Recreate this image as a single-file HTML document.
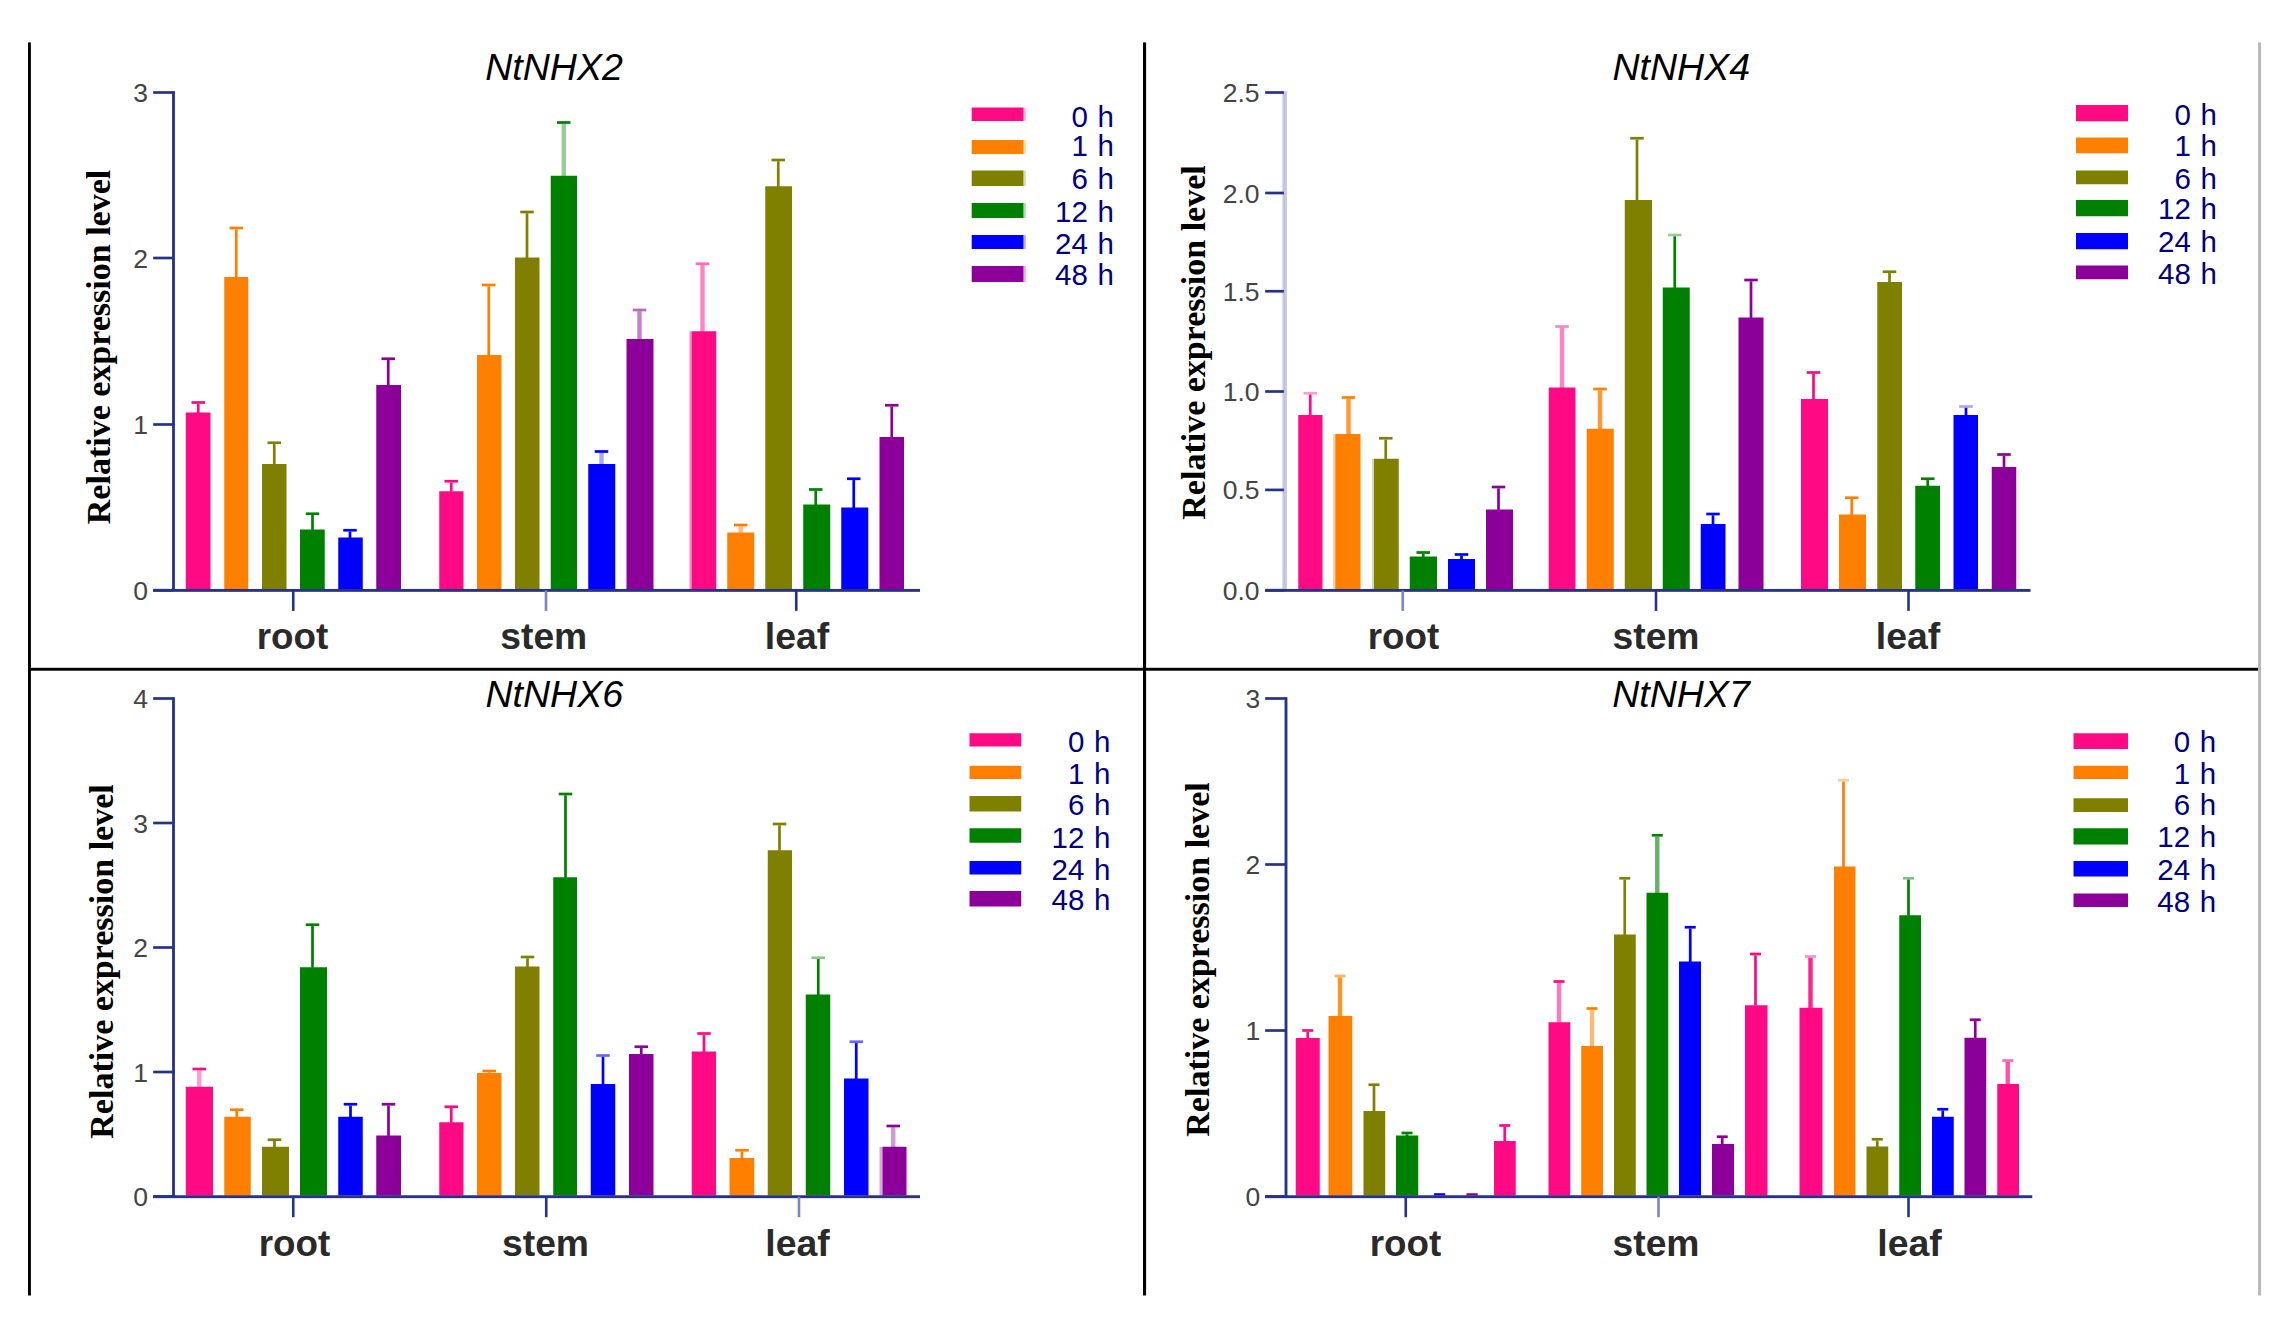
<!DOCTYPE html>
<html><head><meta charset="utf-8"><title>NtNHX relative expression</title>
<style>
html,body{margin:0;padding:0;background:#fff;}
svg{display:block;}
text{font-family:"Liberation Sans",sans-serif;}
.tk{font-size:26.5px;fill:#444;}
.cat{font-size:36px;font-weight:bold;fill:#2a2a2a;}
.ttl{font-size:37.5px;font-style:italic;fill:#000;}
.lg{font-size:29.5px;fill:#000080;word-spacing:1.5px;}
.yl{font-family:"Liberation Serif",serif;font-weight:bold;font-size:34px;fill:#000;}
</style></head><body>
<svg width="2290" height="1330" viewBox="0 0 2290 1330">
<rect x="0" y="0" width="2290" height="1330" fill="#ffffff"/>
<rect x="879.5" y="1146.75" width="3.1" height="48.55" fill="#8c0099" fill-opacity="0.35"/>
<rect x="689.5" y="331.25" width="2.4" height="257.75" fill="#ff0a84" fill-opacity="0.5"/>
<rect x="1333" y="434" width="2.3" height="155" fill="#ff8000" fill-opacity="0.35"/>
<rect x="1372" y="458.75" width="2.1" height="130.25" fill="#808000" fill-opacity="0.3"/>
<rect x="1023.2" y="107.8" width="2.6" height="13.1" fill="#ff0a84" fill-opacity="0.3"/>
<rect x="1023.2" y="140" width="2.6" height="14" fill="#ff8000" fill-opacity="0.3"/>
<rect x="1023.2" y="170.5" width="2.6" height="15.5" fill="#808000" fill-opacity="0.3"/>
<rect x="1023.2" y="203" width="2.6" height="15" fill="#008000" fill-opacity="0.3"/>
<rect x="1023.2" y="235" width="2.6" height="14" fill="#0000ff" fill-opacity="0.3"/>
<rect x="1023.2" y="266" width="2.6" height="16" fill="#8c0099" fill-opacity="0.3"/>
<rect x="28" y="42.4" width="2.9" height="1253.1" fill="#000"/>
<rect x="1143" y="42.4" width="3.1" height="1253.1" fill="#000"/>
<rect x="28" y="667.8" width="2230" height="2.9" fill="#000"/>
<rect x="2258.05" y="42.4" width="3" height="1253.1" fill="#b8b8b8"/>
<rect x="196.9" y="403.8" width="2.7" height="9.2" fill="#ff0a84"/>
<rect x="191.5" y="401.15" width="13.5" height="2.7" fill="#ff0a84"/>
<rect x="185.75" y="412.5" width="24.75" height="176.75" fill="#ff0a84"/>
<rect x="234.9" y="229.3" width="2.7" height="48.2" fill="#ff8000"/>
<rect x="229.5" y="226.65" width="13.5" height="2.7" fill="#ff8000"/>
<rect x="224.25" y="277" width="24" height="312.25" fill="#ff8000"/>
<rect x="272.9" y="444.05" width="2.7" height="20.45" fill="#808000"/>
<rect x="267.5" y="441.4" width="13.5" height="2.7" fill="#808000"/>
<rect x="262" y="464" width="24.5" height="125.25" fill="#808000"/>
<rect x="311.15" y="515.05" width="2.7" height="14.95" fill="#008000"/>
<rect x="305.75" y="512.4" width="13.5" height="2.7" fill="#008000"/>
<rect x="300" y="529.5" width="24.75" height="59.75" fill="#008000"/>
<rect x="348.65" y="531.55" width="2.7" height="6.45" fill="#0000ff"/>
<rect x="343.25" y="528.9" width="13.5" height="2.7" fill="#0000ff"/>
<rect x="338.25" y="537.5" width="24.5" height="51.75" fill="#0000ff"/>
<rect x="386.9" y="360.05" width="2.7" height="25.45" fill="#8c0099"/>
<rect x="381.5" y="357.4" width="13.5" height="2.7" fill="#8c0099"/>
<rect x="376.25" y="385" width="24.75" height="204.25" fill="#8c0099"/>
<rect x="449.9" y="482.55" width="2.7" height="9.2" fill="#ff0a84"/>
<rect x="444.5" y="479.9" width="13.5" height="2.7" fill="#ff0a84"/>
<rect x="439.25" y="491.25" width="24.25" height="98" fill="#ff0a84"/>
<rect x="487.4" y="286.3" width="2.7" height="69.2" fill="#ff8000"/>
<rect x="482" y="283.65" width="13.5" height="2.7" fill="#ff8000"/>
<rect x="477" y="355" width="24.5" height="234.25" fill="#ff8000"/>
<rect x="525.65" y="213.3" width="2.7" height="44.7" fill="#808000"/>
<rect x="520.25" y="210.65" width="13.5" height="2.7" fill="#808000"/>
<rect x="515" y="257.5" width="24.5" height="331.75" fill="#808000"/>
<rect x="561.55" y="123.8" width="4.4" height="52.45" fill="#008000" fill-opacity="0.4"/>
<rect x="557" y="121.15" width="13.5" height="2.7" fill="#008000"/>
<rect x="550.75" y="175.75" width="26.25" height="413.5" fill="#008000"/>
<rect x="599.3" y="452.8" width="4.4" height="11.7" fill="#0000ff" fill-opacity="0.35"/>
<rect x="594.75" y="450.15" width="13.5" height="2.7" fill="#0000ff"/>
<rect x="588.25" y="464" width="27" height="125.25" fill="#0000ff"/>
<rect x="637.3" y="311.3" width="4.4" height="28.2" fill="#8c0099" fill-opacity="0.5"/>
<rect x="632.75" y="308.65" width="13.5" height="2.7" fill="#8c0099" fill-opacity="0.6"/>
<rect x="626.5" y="339" width="27" height="250.25" fill="#8c0099"/>
<rect x="700.3" y="265.05" width="4.4" height="66.7" fill="#ff0a84" fill-opacity="0.5"/>
<rect x="695.75" y="262.4" width="13.5" height="2.7" fill="#ff0a84" fill-opacity="0.6"/>
<rect x="691.8" y="331.25" width="24.45" height="258" fill="#ff0a84"/>
<rect x="738.55" y="526.3" width="4.4" height="6.7" fill="#ff8000" fill-opacity="0.5"/>
<rect x="734" y="523.65" width="13.5" height="2.7" fill="#ff8000"/>
<rect x="727.25" y="532.5" width="27" height="56.75" fill="#ff8000"/>
<rect x="776.9" y="161.3" width="2.7" height="25.45" fill="#808000"/>
<rect x="771.5" y="158.65" width="13.5" height="2.7" fill="#808000"/>
<rect x="765.25" y="186.25" width="26.75" height="403" fill="#808000"/>
<rect x="814.4" y="490.8" width="2.7" height="14.2" fill="#008000"/>
<rect x="809" y="488.15" width="13.5" height="2.7" fill="#008000"/>
<rect x="803.25" y="504.5" width="27" height="84.75" fill="#008000"/>
<rect x="852.4" y="480.05" width="2.7" height="27.95" fill="#0000ff"/>
<rect x="847" y="477.4" width="13.5" height="2.7" fill="#0000ff"/>
<rect x="841.25" y="507.5" width="27" height="81.75" fill="#0000ff"/>
<rect x="890.4" y="406.55" width="2.7" height="30.95" fill="#8c0099"/>
<rect x="885" y="403.9" width="13.5" height="2.7" fill="#8c0099"/>
<rect x="879.5" y="437" width="24.5" height="152.25" fill="#8c0099"/>
<rect x="172.08" y="91.15" width="2.84" height="499.25" fill="#27338a"/>
<rect x="153.15" y="588.9" width="20.35" height="2.7" fill="#27338a"/>
<text x="148" y="599.75" text-anchor="end" class="tk">0</text>
<rect x="153.15" y="423.15" width="20.35" height="2.7" fill="#27338a"/>
<text x="148" y="434" text-anchor="end" class="tk">1</text>
<rect x="153.15" y="256.65" width="20.35" height="2.7" fill="#27338a"/>
<text x="148" y="267.5" text-anchor="end" class="tk">2</text>
<rect x="153.15" y="91.15" width="20.35" height="2.7" fill="#27338a"/>
<text x="148" y="102" text-anchor="end" class="tk">3</text>
<rect x="153.15" y="588.95" width="766.85" height="2.9" fill="#27338a"/>
<rect x="291.95" y="590.4" width="2.6" height="20.5" fill="#27338a"/>
<rect x="544.7" y="590.4" width="2.6" height="20.5" fill="#7f86bf"/>
<rect x="794.95" y="590.4" width="2.6" height="20.5" fill="#27338a"/>
<text x="292.5" y="649" text-anchor="middle" textLength="71.5" lengthAdjust="spacingAndGlyphs" class="cat">root</text>
<text x="543.75" y="649" text-anchor="middle" textLength="87" lengthAdjust="spacingAndGlyphs" class="cat">stem</text>
<text x="797" y="649" text-anchor="middle" textLength="64.5" lengthAdjust="spacingAndGlyphs" class="cat">leaf</text>
<rect x="1308.9" y="394.55" width="2.7" height="20.95" fill="#ff0a84"/>
<rect x="1303.5" y="391.9" width="13.5" height="2.7" fill="#ff0a84" fill-opacity="0.4"/>
<rect x="1298.25" y="415" width="24.25" height="174.25" fill="#ff0a84"/>
<rect x="1346.3" y="398.8" width="4.4" height="35.7" fill="#ff8000" fill-opacity="0.8"/>
<rect x="1341.75" y="396.15" width="13.5" height="2.7" fill="#ff8000"/>
<rect x="1335.25" y="434" width="25.25" height="155.25" fill="#ff8000"/>
<rect x="1384.4" y="439.55" width="2.7" height="19.7" fill="#808000"/>
<rect x="1379" y="436.9" width="13.5" height="2.7" fill="#808000"/>
<rect x="1374" y="458.75" width="24.75" height="130.5" fill="#808000"/>
<rect x="1421.9" y="553.8" width="2.7" height="3.2" fill="#008000"/>
<rect x="1416.5" y="551.15" width="13.5" height="2.7" fill="#008000"/>
<rect x="1409.75" y="556.5" width="27.25" height="32.75" fill="#008000"/>
<rect x="1460.15" y="555.8" width="2.7" height="3.7" fill="#0000ff"/>
<rect x="1454.75" y="553.15" width="13.5" height="2.7" fill="#0000ff"/>
<rect x="1448" y="559" width="27" height="30.25" fill="#0000ff"/>
<rect x="1497.15" y="488.3" width="2.7" height="21.7" fill="#8c0099"/>
<rect x="1491.75" y="485.65" width="13.5" height="2.7" fill="#8c0099"/>
<rect x="1486" y="509.5" width="27" height="79.75" fill="#8c0099"/>
<rect x="1559.8" y="327.8" width="4.4" height="60.2" fill="#ff0a84" fill-opacity="0.5"/>
<rect x="1555.25" y="325.15" width="13.5" height="2.7" fill="#ff0a84" fill-opacity="0.5"/>
<rect x="1548.75" y="387.5" width="26.75" height="201.75" fill="#ff0a84"/>
<rect x="1597.8" y="390.3" width="4.4" height="38.95" fill="#ff8000" fill-opacity="0.8"/>
<rect x="1593.25" y="387.65" width="13.5" height="2.7" fill="#ff8000"/>
<rect x="1586.75" y="428.75" width="27" height="160.5" fill="#ff8000"/>
<rect x="1635.65" y="139.55" width="2.7" height="60.95" fill="#808000"/>
<rect x="1630.25" y="136.9" width="13.5" height="2.7" fill="#808000"/>
<rect x="1624.75" y="200" width="27.25" height="389.25" fill="#808000"/>
<rect x="1673.4" y="236.3" width="2.7" height="51.7" fill="#008000"/>
<rect x="1668" y="233.65" width="13.5" height="2.7" fill="#008000" fill-opacity="0.4"/>
<rect x="1662.75" y="287.5" width="27" height="301.75" fill="#008000"/>
<rect x="1711.65" y="515.3" width="2.7" height="9.2" fill="#0000ff"/>
<rect x="1706.25" y="512.65" width="13.5" height="2.7" fill="#0000ff"/>
<rect x="1700.75" y="524" width="24.75" height="65.25" fill="#0000ff"/>
<rect x="1749.65" y="281.3" width="2.7" height="36.7" fill="#8c0099"/>
<rect x="1744.25" y="278.65" width="13.5" height="2.7" fill="#8c0099"/>
<rect x="1738.5" y="317.5" width="25" height="271.75" fill="#8c0099"/>
<rect x="1812.15" y="373.8" width="2.7" height="25.7" fill="#ff0a84"/>
<rect x="1806.75" y="371.15" width="13.5" height="2.7" fill="#ff0a84"/>
<rect x="1801" y="399" width="27" height="190.25" fill="#ff0a84"/>
<rect x="1850.4" y="499.05" width="2.7" height="15.95" fill="#ff8000"/>
<rect x="1845" y="496.4" width="13.5" height="2.7" fill="#ff8000"/>
<rect x="1839" y="514.5" width="27" height="74.75" fill="#ff8000"/>
<rect x="1888.15" y="273.05" width="2.7" height="9.45" fill="#808000"/>
<rect x="1882.75" y="270.4" width="13.5" height="2.7" fill="#808000"/>
<rect x="1877.25" y="282" width="24.75" height="307.25" fill="#808000"/>
<rect x="1926.4" y="480.05" width="2.7" height="6.2" fill="#008000"/>
<rect x="1921" y="477.4" width="13.5" height="2.7" fill="#008000"/>
<rect x="1915.25" y="485.75" width="24.75" height="103.5" fill="#008000"/>
<rect x="1964.65" y="407.8" width="2.7" height="7.7" fill="#0000ff"/>
<rect x="1959.25" y="405.15" width="13.5" height="2.7" fill="#0000ff" fill-opacity="0.35"/>
<rect x="1953.5" y="415" width="24.5" height="174.25" fill="#0000ff"/>
<rect x="2002.65" y="455.8" width="2.7" height="11.7" fill="#8c0099"/>
<rect x="1997.25" y="453.15" width="13.5" height="2.7" fill="#8c0099"/>
<rect x="1991.75" y="467" width="24.5" height="122.25" fill="#8c0099"/>
<rect x="1282.4" y="91.2" width="4.5" height="499.2" fill="#c5c7e2"/>
<rect x="1265.15" y="588.9" width="18.75" height="2.7" fill="#27338a"/>
<text x="1259.5" y="599.75" text-anchor="end" class="tk">0.0</text>
<rect x="1265.15" y="488.55" width="18.75" height="2.7" fill="#27338a"/>
<text x="1259.5" y="499.4" text-anchor="end" class="tk">0.5</text>
<rect x="1265.15" y="390.15" width="18.75" height="2.7" fill="#27338a"/>
<text x="1259.5" y="401" text-anchor="end" class="tk">1.0</text>
<rect x="1265.15" y="289.9" width="18.75" height="2.7" fill="#27338a"/>
<text x="1259.5" y="300.75" text-anchor="end" class="tk">1.5</text>
<rect x="1265.15" y="191.65" width="18.75" height="2.7" fill="#27338a"/>
<text x="1259.5" y="202.5" text-anchor="end" class="tk">2.0</text>
<rect x="1265.15" y="91.15" width="18.75" height="2.7" fill="#27338a"/>
<text x="1259.5" y="102" text-anchor="end" class="tk">2.5</text>
<rect x="1265.15" y="588.95" width="765.35" height="2.9" fill="#27338a"/>
<rect x="1401.45" y="590.4" width="2.6" height="20.5" fill="#7f86bf"/>
<rect x="1654.7" y="590.4" width="2.6" height="20.5" fill="#27338a"/>
<rect x="1907.2" y="590.4" width="2.6" height="20.5" fill="#27338a"/>
<text x="1403.5" y="649" text-anchor="middle" textLength="71.5" lengthAdjust="spacingAndGlyphs" class="cat">root</text>
<text x="1656" y="649" text-anchor="middle" textLength="87" lengthAdjust="spacingAndGlyphs" class="cat">stem</text>
<text x="1908" y="649" text-anchor="middle" textLength="64.5" lengthAdjust="spacingAndGlyphs" class="cat">leaf</text>
<rect x="197.05" y="1070.3" width="4.4" height="16.95" fill="#ff0a84" fill-opacity="0.4"/>
<rect x="192.5" y="1067.65" width="13.5" height="2.7" fill="#ff0a84"/>
<rect x="185.75" y="1086.75" width="27.25" height="108.75" fill="#ff0a84"/>
<rect x="235.4" y="1111.05" width="2.7" height="6.2" fill="#ff8000"/>
<rect x="230" y="1108.4" width="13.5" height="2.7" fill="#ff8000"/>
<rect x="224.25" y="1116.75" width="26.5" height="78.75" fill="#ff8000"/>
<rect x="273.15" y="1141.05" width="2.7" height="6.2" fill="#808000"/>
<rect x="267.75" y="1138.4" width="13.5" height="2.7" fill="#808000"/>
<rect x="262" y="1146.75" width="27" height="48.75" fill="#808000"/>
<rect x="311.15" y="926.05" width="2.7" height="41.7" fill="#008000"/>
<rect x="305.75" y="923.4" width="13.5" height="2.7" fill="#008000"/>
<rect x="300" y="967.25" width="27" height="228.25" fill="#008000"/>
<rect x="349.15" y="1105.55" width="2.7" height="11.7" fill="#0000ff"/>
<rect x="343.75" y="1102.9" width="13.5" height="2.7" fill="#0000ff"/>
<rect x="338.25" y="1116.75" width="24.5" height="78.75" fill="#0000ff"/>
<rect x="387.15" y="1105.55" width="2.7" height="30.45" fill="#8c0099"/>
<rect x="381.75" y="1102.9" width="13.5" height="2.7" fill="#8c0099"/>
<rect x="376.25" y="1135.5" width="24.75" height="60" fill="#8c0099"/>
<rect x="449.9" y="1108.05" width="2.7" height="14.7" fill="#ff0a84"/>
<rect x="444.5" y="1105.4" width="13.5" height="2.7" fill="#ff0a84"/>
<rect x="439.25" y="1122.25" width="24.25" height="73.25" fill="#ff0a84"/>
<rect x="487.9" y="1072.3" width="2.7" height="1.2" fill="#ff8000"/>
<rect x="482.5" y="1069.65" width="13.5" height="2.7" fill="#ff8000"/>
<rect x="477" y="1073" width="24.5" height="122.5" fill="#ff8000"/>
<rect x="526.15" y="958.3" width="2.7" height="8.7" fill="#808000"/>
<rect x="520.75" y="955.65" width="13.5" height="2.7" fill="#808000"/>
<rect x="515" y="966.5" width="24.5" height="229" fill="#808000"/>
<rect x="564.15" y="795.3" width="2.7" height="82.45" fill="#008000"/>
<rect x="558.75" y="792.65" width="13.5" height="2.7" fill="#008000"/>
<rect x="553.25" y="877.25" width="23.75" height="318.25" fill="#008000"/>
<rect x="601.65" y="1056.8" width="2.7" height="27.7" fill="#0000ff"/>
<rect x="596.25" y="1054.15" width="13.5" height="2.7" fill="#0000ff" fill-opacity="0.6"/>
<rect x="590.75" y="1084" width="24.5" height="111.5" fill="#0000ff"/>
<rect x="639.9" y="1048.05" width="2.7" height="6.45" fill="#8c0099"/>
<rect x="634.5" y="1045.4" width="13.5" height="2.7" fill="#8c0099"/>
<rect x="629" y="1054" width="24.5" height="141.5" fill="#8c0099"/>
<rect x="702.65" y="1034.8" width="2.7" height="17.2" fill="#ff0a84"/>
<rect x="697.25" y="1032.15" width="13.5" height="2.7" fill="#ff0a84"/>
<rect x="691.75" y="1051.5" width="24.25" height="144" fill="#ff0a84"/>
<rect x="740.65" y="1151.55" width="2.7" height="6.95" fill="#ff8000"/>
<rect x="735.25" y="1148.9" width="13.5" height="2.7" fill="#ff8000"/>
<rect x="729.5" y="1158" width="24.75" height="37.5" fill="#ff8000"/>
<rect x="778.15" y="825.3" width="2.7" height="25.45" fill="#808000"/>
<rect x="772.75" y="822.65" width="13.5" height="2.7" fill="#808000"/>
<rect x="767.75" y="850.25" width="24.25" height="345.25" fill="#808000"/>
<rect x="816.9" y="959.05" width="2.7" height="35.95" fill="#008000"/>
<rect x="811.5" y="956.4" width="13.5" height="2.7" fill="#008000" fill-opacity="0.45"/>
<rect x="805.75" y="994.5" width="24.5" height="201" fill="#008000"/>
<rect x="854.9" y="1043.05" width="2.7" height="35.95" fill="#0000ff"/>
<rect x="849.5" y="1040.4" width="13.5" height="2.7" fill="#0000ff" fill-opacity="0.6"/>
<rect x="844" y="1078.5" width="24.5" height="117" fill="#0000ff"/>
<rect x="891.05" y="1127.3" width="4.4" height="19.95" fill="#8c0099" fill-opacity="0.4"/>
<rect x="886.5" y="1124.65" width="13.5" height="2.7" fill="#8c0099"/>
<rect x="882.5" y="1146.75" width="24" height="48.75" fill="#8c0099"/>
<rect x="172.08" y="697.15" width="2.84" height="499.55" fill="#27338a"/>
<rect x="153.15" y="1195.15" width="20.35" height="2.7" fill="#27338a"/>
<text x="148" y="1206" text-anchor="end" class="tk">0</text>
<rect x="153.15" y="1070.65" width="20.35" height="2.7" fill="#27338a"/>
<text x="148" y="1081.5" text-anchor="end" class="tk">1</text>
<rect x="153.15" y="946.15" width="20.35" height="2.7" fill="#27338a"/>
<text x="148" y="957" text-anchor="end" class="tk">2</text>
<rect x="153.15" y="821.65" width="20.35" height="2.7" fill="#27338a"/>
<text x="148" y="832.5" text-anchor="end" class="tk">3</text>
<rect x="153.15" y="697.15" width="20.35" height="2.7" fill="#27338a"/>
<text x="148" y="708" text-anchor="end" class="tk">4</text>
<rect x="153.15" y="1195.25" width="766.85" height="2.9" fill="#27338a"/>
<rect x="291.95" y="1196.7" width="2.6" height="20.5" fill="#27338a"/>
<rect x="544.95" y="1196.7" width="2.6" height="20.5" fill="#27338a"/>
<rect x="797.7" y="1196.7" width="2.6" height="20.5" fill="#7f86bf"/>
<text x="294.5" y="1256" text-anchor="middle" textLength="71.5" lengthAdjust="spacingAndGlyphs" class="cat">root</text>
<text x="545.5" y="1256" text-anchor="middle" textLength="87" lengthAdjust="spacingAndGlyphs" class="cat">stem</text>
<text x="797.5" y="1256" text-anchor="middle" textLength="64.5" lengthAdjust="spacingAndGlyphs" class="cat">leaf</text>
<rect x="1306.4" y="1031.8" width="2.7" height="6.7" fill="#ff0a84"/>
<rect x="1302.25" y="1029.15" width="11" height="2.7" fill="#ff0a84"/>
<rect x="1295.75" y="1038" width="24" height="157.5" fill="#ff0a84"/>
<rect x="1337.8" y="977.3" width="4.4" height="39.2" fill="#ff8000" fill-opacity="0.85"/>
<rect x="1334.5" y="974.65" width="11" height="2.7" fill="#ff8000" fill-opacity="0.6"/>
<rect x="1328.5" y="1016" width="23.75" height="179.5" fill="#ff8000"/>
<rect x="1372.65" y="1086.05" width="2.7" height="25.45" fill="#808000"/>
<rect x="1368.5" y="1083.4" width="11" height="2.7" fill="#808000"/>
<rect x="1363.5" y="1111" width="21.75" height="84.5" fill="#808000"/>
<rect x="1405.65" y="1134.3" width="2.7" height="1.7" fill="#008000"/>
<rect x="1401.5" y="1131.65" width="11" height="2.7" fill="#008000"/>
<rect x="1396" y="1135.5" width="22.25" height="60" fill="#008000"/>
<rect x="1503.4" y="1126.8" width="2.7" height="14.7" fill="#ff0a84"/>
<rect x="1499.25" y="1124.15" width="11" height="2.7" fill="#ff0a84"/>
<rect x="1494" y="1141" width="21.75" height="54.5" fill="#ff0a84"/>
<rect x="1556.8" y="982.8" width="4.4" height="39.95" fill="#ff0a84" fill-opacity="0.55"/>
<rect x="1553.5" y="980.15" width="11" height="2.7" fill="#ff0a84"/>
<rect x="1548.5" y="1022.25" width="21.75" height="173.25" fill="#ff0a84"/>
<rect x="1589.8" y="1009.8" width="4.4" height="36.7" fill="#ff8000" fill-opacity="0.55"/>
<rect x="1586.5" y="1007.15" width="11" height="2.7" fill="#ff8000"/>
<rect x="1581.25" y="1046" width="21.75" height="149.5" fill="#ff8000"/>
<rect x="1623.4" y="879.55" width="2.7" height="55.45" fill="#808000"/>
<rect x="1619.25" y="876.9" width="11" height="2.7" fill="#808000"/>
<rect x="1614" y="934.5" width="21.75" height="261" fill="#808000"/>
<rect x="1655.05" y="836.55" width="4.4" height="56.7" fill="#008000" fill-opacity="0.6"/>
<rect x="1651.75" y="833.9" width="11" height="2.7" fill="#008000"/>
<rect x="1646.5" y="892.75" width="21.75" height="302.75" fill="#008000"/>
<rect x="1688.9" y="928.55" width="2.7" height="33.45" fill="#0000ff"/>
<rect x="1684.75" y="925.9" width="11" height="2.7" fill="#0000ff"/>
<rect x="1679" y="961.5" width="22" height="234" fill="#0000ff"/>
<rect x="1720.9" y="1138.05" width="2.7" height="6.45" fill="#8c0099"/>
<rect x="1716.75" y="1135.4" width="11" height="2.7" fill="#8c0099"/>
<rect x="1712" y="1144" width="22" height="51.5" fill="#8c0099"/>
<rect x="1754.15" y="955.3" width="2.7" height="50.45" fill="#ff0a84"/>
<rect x="1750" y="952.65" width="11" height="2.7" fill="#ff0a84"/>
<rect x="1745" y="1005.25" width="22.5" height="190.25" fill="#ff0a84"/>
<rect x="1808.3" y="957.8" width="4.4" height="50.45" fill="#ff0a84" fill-opacity="0.9"/>
<rect x="1805" y="955.15" width="11" height="2.7" fill="#ff0a84" fill-opacity="0.45"/>
<rect x="1799.5" y="1007.75" width="23" height="187.75" fill="#ff0a84"/>
<rect x="1842.15" y="781.55" width="2.7" height="85.45" fill="#ff8000"/>
<rect x="1838" y="778.9" width="11" height="2.7" fill="#ff8000" fill-opacity="0.4"/>
<rect x="1834" y="866.5" width="21.5" height="329" fill="#ff8000"/>
<rect x="1875.9" y="1140.55" width="2.7" height="6.45" fill="#808000"/>
<rect x="1871.75" y="1137.9" width="11" height="2.7" fill="#808000"/>
<rect x="1866.5" y="1146.5" width="21.75" height="49" fill="#808000"/>
<rect x="1907.15" y="879.55" width="2.7" height="36.2" fill="#008000"/>
<rect x="1903" y="876.9" width="11" height="2.7" fill="#008000" fill-opacity="0.5"/>
<rect x="1899.25" y="915.25" width="21.75" height="280.25" fill="#008000"/>
<rect x="1941.4" y="1110.55" width="2.7" height="6.7" fill="#0000ff"/>
<rect x="1937.25" y="1107.9" width="11" height="2.7" fill="#0000ff"/>
<rect x="1932" y="1116.75" width="21.75" height="78.75" fill="#0000ff"/>
<rect x="1973.9" y="1021.05" width="2.7" height="17.2" fill="#8c0099"/>
<rect x="1969.75" y="1018.4" width="11" height="2.7" fill="#8c0099"/>
<rect x="1964.5" y="1037.75" width="21.75" height="157.75" fill="#8c0099"/>
<rect x="2005.55" y="1061.8" width="4.4" height="22.7" fill="#ff0a84" fill-opacity="0.7"/>
<rect x="2002.25" y="1059.15" width="11" height="2.7" fill="#ff0a84" fill-opacity="0.6"/>
<rect x="1997.25" y="1084" width="21.75" height="111.5" fill="#ff0a84"/>
<rect x="1434" y="1193.2" width="11.25" height="2.3" fill="#0000ff"/>
<rect x="1466.5" y="1193.2" width="11.25" height="2.3" fill="#8c0099"/>
<rect x="1284.58" y="697.15" width="2.84" height="499.55" fill="#27338a"/>
<rect x="1265.15" y="1195.15" width="20.85" height="2.7" fill="#27338a"/>
<text x="1260.25" y="1206" text-anchor="end" class="tk">0</text>
<rect x="1265.15" y="1029.15" width="20.85" height="2.7" fill="#27338a"/>
<text x="1260.25" y="1040" text-anchor="end" class="tk">1</text>
<rect x="1265.15" y="863.15" width="20.85" height="2.7" fill="#27338a"/>
<text x="1260.25" y="874" text-anchor="end" class="tk">2</text>
<rect x="1265.15" y="697.15" width="20.85" height="2.7" fill="#27338a"/>
<text x="1260.25" y="708" text-anchor="end" class="tk">3</text>
<rect x="1265.15" y="1195.25" width="767.1" height="2.9" fill="#27338a"/>
<rect x="1404.45" y="1196.7" width="2.6" height="20.5" fill="#27338a"/>
<rect x="1657.2" y="1196.7" width="2.6" height="20.5" fill="#7f86bf"/>
<rect x="1907.2" y="1196.7" width="2.6" height="20.5" fill="#27338a"/>
<text x="1405.5" y="1256" text-anchor="middle" textLength="71.5" lengthAdjust="spacingAndGlyphs" class="cat">root</text>
<text x="1656" y="1256" text-anchor="middle" textLength="87" lengthAdjust="spacingAndGlyphs" class="cat">stem</text>
<text x="1909.5" y="1256" text-anchor="middle" textLength="64.5" lengthAdjust="spacingAndGlyphs" class="cat">leaf</text>
<text x="554" y="80" text-anchor="middle" class="ttl">NtNHX2</text>
<text x="1681.25" y="80" text-anchor="middle" class="ttl">NtNHX4</text>
<text x="554.25" y="706.5" text-anchor="middle" class="ttl">NtNHX6</text>
<text x="1681" y="706.5" text-anchor="middle" class="ttl">NtNHX7</text>
<text transform="translate(110 347) rotate(-90)" text-anchor="middle" class="yl">Relative expression level</text>
<text transform="translate(1205.25 342.5) rotate(-90)" text-anchor="middle" class="yl">Relative expression level</text>
<text transform="translate(112.5 961.5) rotate(-90)" text-anchor="middle" class="yl">Relative expression level</text>
<text transform="translate(1208.5 959.5) rotate(-90)" text-anchor="middle" class="yl">Relative expression level</text>
<rect x="971.7" y="107.5" width="51.7" height="13.5" fill="#ff0a84"/>
<text x="1114" y="126.5" text-anchor="end" class="lg">0 h</text>
<rect x="971.7" y="140" width="51.7" height="14" fill="#ff8000"/>
<text x="1114" y="156.25" text-anchor="end" class="lg">1 h</text>
<rect x="971.7" y="170.5" width="51.7" height="15.5" fill="#808000"/>
<text x="1114" y="188.75" text-anchor="end" class="lg">6 h</text>
<rect x="971.7" y="203" width="51.7" height="15" fill="#008000"/>
<text x="1114" y="221.75" text-anchor="end" class="lg">12 h</text>
<rect x="971.7" y="235" width="51.7" height="14" fill="#0000ff"/>
<text x="1114" y="254.25" text-anchor="end" class="lg">24 h</text>
<rect x="971.7" y="266" width="51.7" height="16" fill="#8c0099"/>
<text x="1114" y="285" text-anchor="end" class="lg">48 h</text>
<rect x="2076" y="105" width="52" height="16.25" fill="#ff0a84"/>
<text x="2217" y="124.5" text-anchor="end" class="lg">0 h</text>
<rect x="2076" y="137.5" width="52" height="15.75" fill="#ff8000"/>
<text x="2217" y="156.25" text-anchor="end" class="lg">1 h</text>
<rect x="2076" y="170.5" width="52" height="13.75" fill="#808000"/>
<text x="2217" y="188.75" text-anchor="end" class="lg">6 h</text>
<rect x="2076" y="200" width="52" height="16.25" fill="#008000"/>
<text x="2217" y="219.25" text-anchor="end" class="lg">12 h</text>
<rect x="2076" y="233" width="52" height="16.25" fill="#0000ff"/>
<text x="2217" y="251.75" text-anchor="end" class="lg">24 h</text>
<rect x="2076" y="265.5" width="52" height="13.75" fill="#8c0099"/>
<text x="2217" y="283.75" text-anchor="end" class="lg">48 h</text>
<rect x="969.5" y="733.25" width="51.75" height="13.25" fill="#ff0a84"/>
<text x="1110.5" y="752" text-anchor="end" class="lg">0 h</text>
<rect x="969.5" y="765.75" width="51.75" height="13.25" fill="#ff8000"/>
<text x="1110.5" y="784" text-anchor="end" class="lg">1 h</text>
<rect x="969.5" y="796" width="51.75" height="15.5" fill="#808000"/>
<text x="1110.5" y="814.75" text-anchor="end" class="lg">6 h</text>
<rect x="969.5" y="828.25" width="51.75" height="14.5" fill="#008000"/>
<text x="1110.5" y="847.75" text-anchor="end" class="lg">12 h</text>
<rect x="969.5" y="861" width="51.75" height="13.5" fill="#0000ff"/>
<text x="1110.5" y="879.5" text-anchor="end" class="lg">24 h</text>
<rect x="969.5" y="891" width="51.75" height="15.5" fill="#8c0099"/>
<text x="1110.5" y="910.25" text-anchor="end" class="lg">48 h</text>
<rect x="2073.5" y="733.25" width="54.5" height="15.75" fill="#ff0a84"/>
<text x="2216.25" y="751.5" text-anchor="end" class="lg">0 h</text>
<rect x="2073.5" y="765.75" width="54.5" height="13.25" fill="#ff8000"/>
<text x="2216.25" y="784" text-anchor="end" class="lg">1 h</text>
<rect x="2073.5" y="798.25" width="54.5" height="13.75" fill="#808000"/>
<text x="2216.25" y="814.75" text-anchor="end" class="lg">6 h</text>
<rect x="2073.5" y="828.25" width="54.5" height="16.25" fill="#008000"/>
<text x="2216.25" y="847.25" text-anchor="end" class="lg">12 h</text>
<rect x="2073.5" y="861" width="54.5" height="15.5" fill="#0000ff"/>
<text x="2216.25" y="879.5" text-anchor="end" class="lg">24 h</text>
<rect x="2073.5" y="893.5" width="54.5" height="13.5" fill="#8c0099"/>
<text x="2216.25" y="911.5" text-anchor="end" class="lg">48 h</text>
</svg>
</body></html>
